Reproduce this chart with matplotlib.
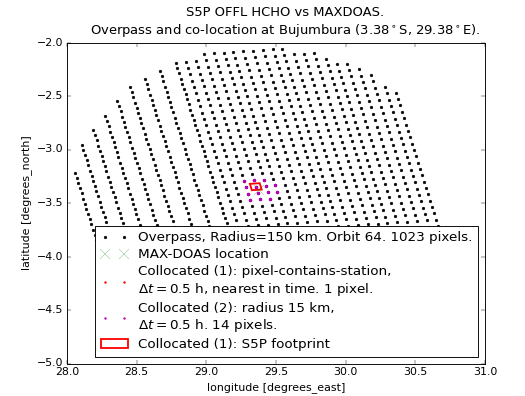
import numpy as np
import matplotlib as mpl
import matplotlib.pyplot as plt
from matplotlib.patches import Polygon
from matplotlib.legend_handler import HandlerLine2D

plt.style.use('classic')
mpl.rcParams['mathtext.fontset'] = 'dejavusans'

# station ----------------------------------------------------------------------
station_name = 'Bujumbura'
station_lon, station_lat = 29.38, -3.38
radius_km = 150.0
orbit = 64
n_overpass = 1023
dt_hours = 0.5
coloc_radius_km = 15

# western part of the swath: first pixel of each along-track column (deg)
west_top_lon = [28.0574, 28.1055, 28.1888, 28.2749, 28.3610,
                28.4522, 28.5598, 28.6675, 28.7801]
west_top_lat = [-3.2168, -2.9551, -2.8178, -2.6869, -2.5467,
                -2.4159, -2.3411, -2.2664, -2.1916]
west_dscan = [0.01177, -0.04832]      # to the next scanline

# eastern part: pixel grid around the pixel that contains the station (deg)
east_pix0 = [29.3550, -3.3477]
east_dpix = [0.07033, 0.00626]        # to the next ground pixel
east_dscan = [0.01435, -0.05935]      # to the next scanline
east_pix_first, east_pix_last = -3, 17

# collocated (2): pixels within 15 km, offsets from the station pixel
coloc2_pix = [-1, 0, 1, -1, 0, 1, 2, -1, 0, 1, 2, -1, 0, 1]
coloc2_scan = [-1, -1, -1, 0, 0, 0, 0, 1, 1, 1, 1, 2, 2, 2]

# distance on the sphere (km) --------------------------------------------------
def dist_km(lon, lat, lon0, lat0):
    lon, lat, lon0, lat0 = map(np.radians, (lon, lat, lon0, lat0))
    a = (np.sin((lat - lat0) / 2) ** 2 +
         np.cos(lat) * np.cos(lat0) * np.sin((lon - lon0) / 2) ** 2)
    return 2 * 6371.0 * np.arcsin(np.sqrt(a))

# smaller markers in the legend ------------------------------------------------
def small_marker(handle, orig):
    handle.update_from(orig)
    handle.set_markersize(4)

# overpass pixels --------------------------------------------------------------
lons, lats = [], []
k = np.arange(0, 80)
for lon0, lat0 in zip(west_top_lon, west_top_lat):
    lo = lon0 + k * west_dscan[0]
    la = lat0 + k * west_dscan[1]
    m = dist_km(lo, la, station_lon, station_lat) <= radius_km
    lons += list(lo[m])
    lats += list(la[m])

ii, jj = np.meshgrid(np.arange(east_pix_first, east_pix_last + 1),
                     np.arange(-40, 41))
lo = east_pix0[0] + ii * east_dpix[0] + jj * east_dscan[0]
la = east_pix0[1] + ii * east_dpix[1] + jj * east_dscan[1]
m = dist_km(lo, la, station_lon, station_lat) <= radius_km
lons += list(lo[m])
lats += list(la[m])

c2_lon = [east_pix0[0] + i * east_dpix[0] + j * east_dscan[0]
          for i, j in zip(coloc2_pix, coloc2_scan)]
c2_lat = [east_pix0[1] + i * east_dpix[1] + j * east_dscan[1]
          for i, j in zip(coloc2_pix, coloc2_scan)]

corners = []
for a, b in [(-0.5, -0.5), (0.5, -0.5), (0.5, 0.5), (-0.5, 0.5)]:
    corners.append([east_pix0[0] + a * east_dpix[0] + b * east_dscan[0],
                    east_pix0[1] + a * east_dpix[1] + b * east_dscan[1]])

# plot -------------------------------------------------------------------------
dpi = 65.625
fig = plt.figure(figsize=(525 / dpi, 396 / dpi), dpi=dpi)
ax = fig.add_axes([67 / 525, 32.5 / 396, 418 / 525, 321 / 396])

ax.plot(lons, lats, 'k.', ms=6,
        label='Overpass, Radius=%d km. Orbit %d. %d pixels.' %
        (radius_km, orbit, n_overpass))
ax.plot(station_lon, station_lat, 'x', color='g', alpha=0.5, ms=10,
        label='MAX-DOAS location')
l1, = ax.plot(east_pix0[0], east_pix0[1], 'r.', ms=6,
        label='Collocated (1): pixel-contains-station,\n'
              r'$\Delta t=$%.1f h, nearest in time. 1 pixel.' % dt_hours)
l2, = ax.plot(c2_lon, c2_lat, 'm.', ms=6.5,
        label='Collocated (2): radius %d km,\n' % coloc_radius_km +
              r'$\Delta t=$%.1f h. %d pixels.' % (dt_hours, len(c2_lon)))
ax.add_patch(Polygon(corners, closed=True, fill=False, ec='r', lw=2,
                     label='Collocated (1): S5P footprint'))

ax.set_xlim(28, 31)
ax.set_ylim(-5, -2)
ax.set_xlabel('longitude [degrees_east]')
ax.set_ylabel('latitude [degrees_north]')
ax.set_title('S5P OFFL HCHO vs MAXDOAS.\nOverpass and co-location at %s '
             '(%.2f$^\\circ$S, %.2f$^\\circ$E).' %
             (station_name, -station_lat, station_lon), x=0.5215, pad=9.5)
ax.legend(loc='lower right', numpoints=2, prop={'size': 14.8},
          labelspacing=0.3,
          handler_map={l1: HandlerLine2D(update_func=small_marker),
                       l2: HandlerLine2D(update_func=small_marker)})

fig.savefig('out.png', dpi=dpi)
